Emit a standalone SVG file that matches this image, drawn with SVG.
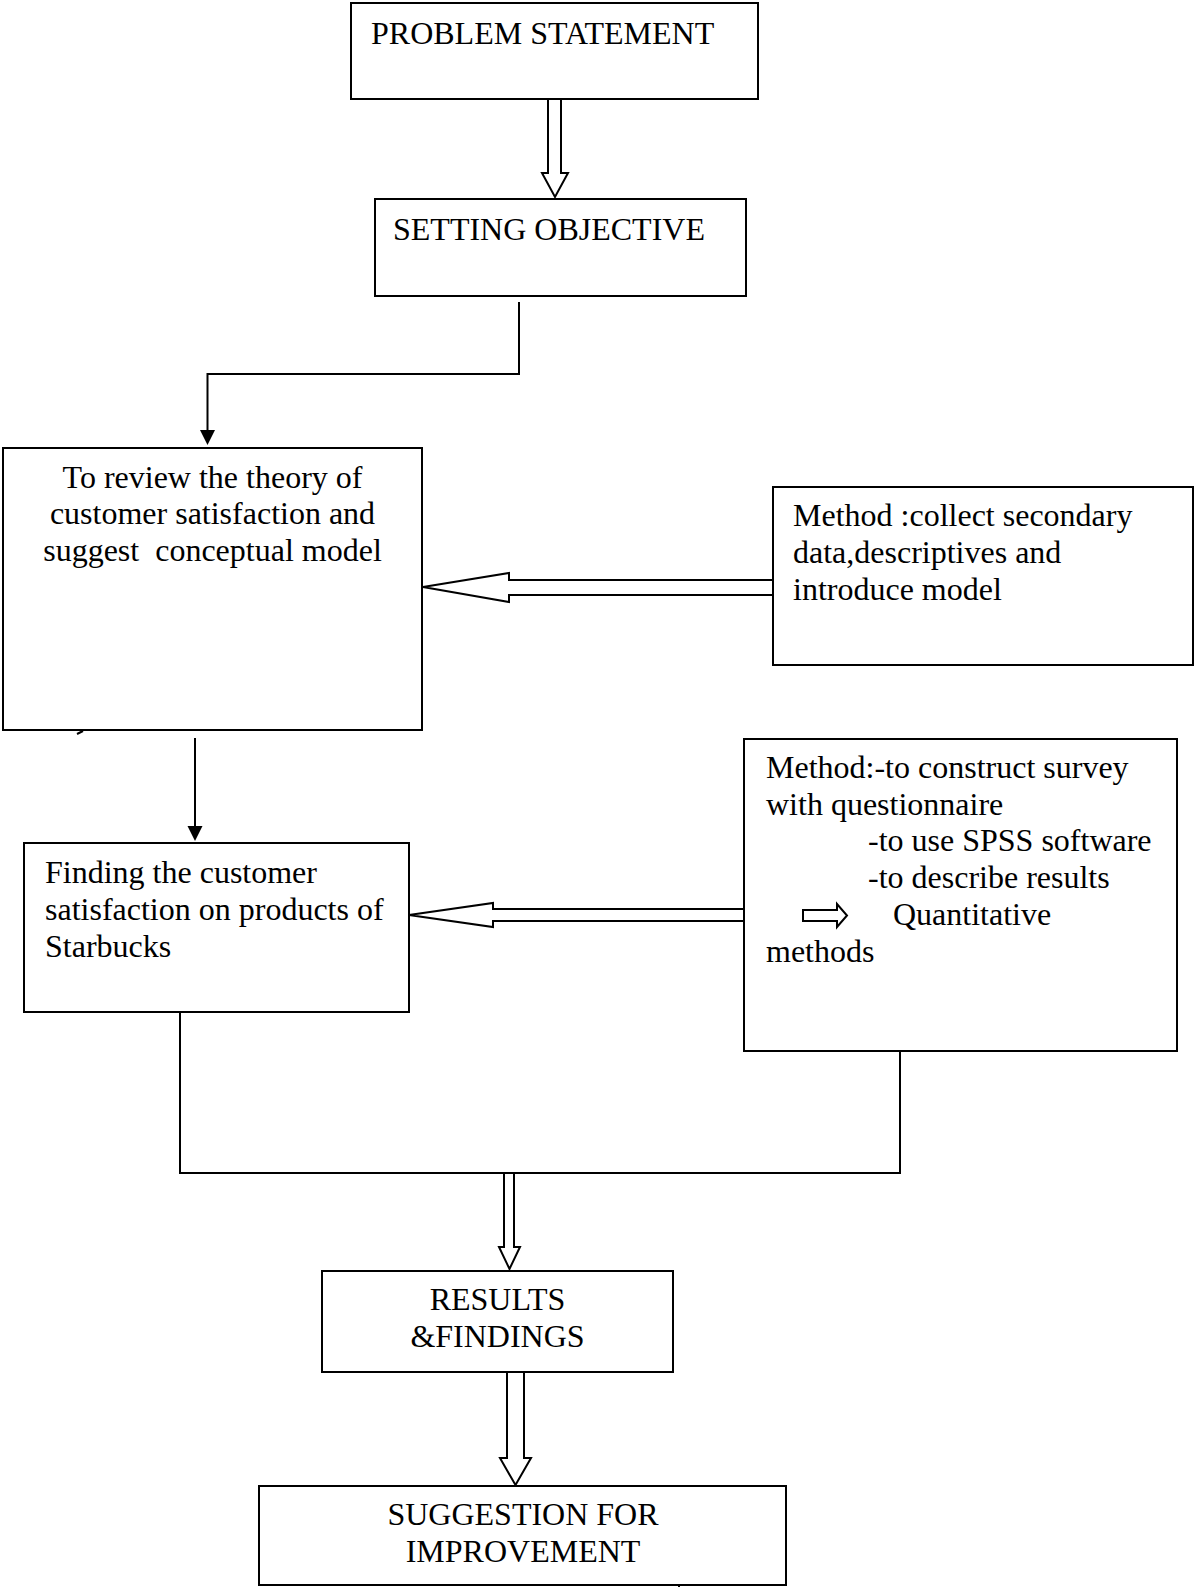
<svg xmlns="http://www.w3.org/2000/svg" width="1194" height="1587" viewBox="0 0 1194 1587">
<style>
.box{fill:#fff;stroke:#000;stroke-width:2}
.t{font-family:"Liberation Serif","Times New Roman",serif;font-size:32px;fill:#000}
.c{text-anchor:middle}
.ln{fill:none;stroke:#000;stroke-width:2}
.dbl{fill:#fff;stroke:#000;stroke-width:2;stroke-linejoin:miter}
.head{fill:#000;stroke:none}
</style>
<rect width="1194" height="1587" fill="#fff"/>
<g id="connectors">
<polygon class="dbl" points="548,99 561,99 561,173 568,173 555,197 542,173 548,173"/>
<polyline class="ln" points="519,302 519,374 207.5,374 207.5,432"/>
<polygon class="head" points="200,430 215,430 207.5,445"/>
<polygon class="dbl" points="423,587 509,573 509,580 773,580 773,595 509,595 509,602"/>
<line class="ln" x1="195" y1="738" x2="195" y2="828"/>
<polygon class="head" points="187.5,826 202.5,826 195,841"/>
<polygon class="dbl" points="409,915 493,903 493,909 744,909 744,921 493,921 493,927"/>
<polyline class="ln" points="180,1012 180,1173 900,1173 900,1051"/>
<polygon class="dbl" points="504,1173 514,1173 514,1247 520,1247 509.5,1269 499,1247 504,1247"/>
<polygon class="dbl" points="507,1372 524,1372 524,1458 531,1458 515.5,1485 500,1458 507,1458"/>
<line class="ln" x1="77" y1="734" x2="83" y2="731"/>
<line class="ln" x1="679" y1="1585" x2="679" y2="1587"/>
</g>
<g id="problem">
<rect class="box" x="351" y="3" width="407" height="96"/>
<text class="t" x="371" y="44">PROBLEM STATEMENT</text>
</g>
<g id="objective">
<rect class="box" x="375" y="199" width="371" height="97"/>
<text class="t" x="393" y="240">SETTING OBJECTIVE</text>
</g>
<g id="review">
<rect class="box" x="3" y="448" width="419" height="282"/>
<text class="t c" x="212.5" y="488">To review the theory of</text>
<text class="t c" x="212.5" y="524">customer satisfaction and</text>
<text class="t c" x="212.5" y="561" style="white-space:pre">suggest  conceptual model</text>
</g>
<g id="method1">
<rect class="box" x="773" y="487" width="420" height="178"/>
<text class="t" x="793" y="526">Method :collect secondary</text>
<text class="t" x="793" y="563">data,descriptives and</text>
<text class="t" x="793" y="600">introduce model</text>
</g>
<g id="finding">
<rect class="box" x="24" y="843" width="385" height="169"/>
<text class="t" x="45" y="883">Finding the customer</text>
<text class="t" x="45" y="920">satisfaction on products of</text>
<text class="t" x="45" y="957">Starbucks</text>
</g>
<g id="method2">
<rect class="box" x="744" y="739" width="433" height="312"/>
<text class="t" x="766" y="778">Method:-to construct survey</text>
<text class="t" x="766" y="815">with questionnaire</text>
<text class="t" x="868" y="851">-to use SPSS software</text>
<text class="t" x="868" y="888">-to describe results</text>
<polygon class="dbl" points="803,910 837,910 837,904 847,915.5 837,927 837,921 803,921"/>
<text class="t" x="893" y="925">Quantitative</text>
<text class="t" x="766" y="962">methods</text>
</g>
<g id="results">
<rect class="box" x="322" y="1271" width="351" height="101"/>
<text class="t c" x="497.5" y="1310">RESULTS</text>
<text class="t c" x="497.5" y="1347">&amp;FINDINGS</text>
</g>
<g id="suggestion">
<rect class="box" x="259" y="1486" width="527" height="99"/>
<text class="t c" x="523" y="1525">SUGGESTION FOR</text>
<text class="t c" x="523" y="1562">IMPROVEMENT</text>
</g>
</svg>
